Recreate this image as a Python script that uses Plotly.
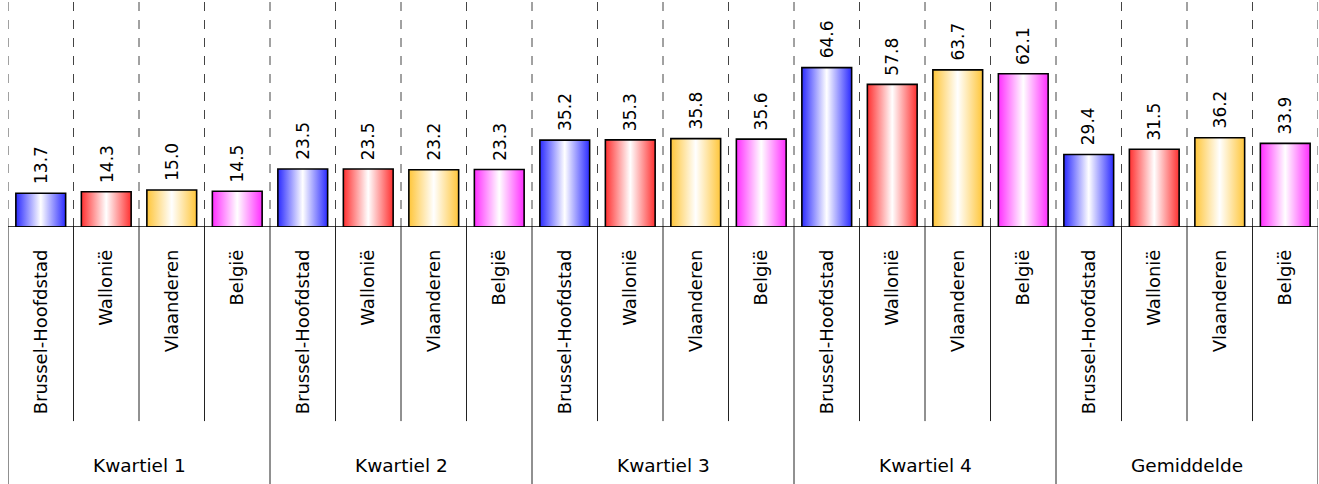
import plotly.graph_objects as go

groups = ["Kwartiel 1", "Kwartiel 2", "Kwartiel 3", "Kwartiel 4", "Gemiddelde"]
regions = ["Brussel-Hoofdstad", "Wallonië", "Vlaanderen", "België"]
values_brussel = [13.7, 23.5, 35.2, 64.6, 29.4]
values_wallonie = [14.3, 23.5, 35.3, 57.8, 31.5]
values_vlaanderen = [15.0, 23.2, 35.8, 63.7, 36.2]
values_belgie = [14.5, 23.3, 35.6, 62.1, 33.9]
colors = ["#2b2bff", "#ff3030", "#ffc63a", "#ff2eff"]

series = [values_brussel, values_wallonie, values_vlaanderen, values_belgie]
FONT = "DejaVu Sans"
W = 0.76
YMAX = 92

fig = go.Figure()
annotations = []
shapes = []
tickvals, ticktext = [], []
for g, grp in enumerate(groups):
    for r, reg in enumerate(regions):
        i = g * 4 + r
        v = series[r][g]
        c = colors[r]
        fig.add_trace(go.Scatter(
            x=[i - W / 2, i - W / 2, i + W / 2, i + W / 2, i - W / 2],
            y=[0, v, v, 0, 0],
            mode="lines", fill="toself",
            line=dict(color="black", width=1.6),
            fillgradient=dict(type="horizontal",
                              colorscale=[[0, c], [0.5, "#ffffff"], [1, c]]),
            hoverinfo="skip", showlegend=False,
        ))
        annotations.append(dict(
            x=i, y=v, xref="x", yref="y", text=f"{v:.1f}", textangle=-90,
            showarrow=False, yanchor="bottom", xanchor="center", yshift=7,
            font=dict(family=FONT, size=17, color="black"),
        ))
        tickvals.append(i)
        ticktext.append(reg)
    annotations.append(dict(
        x=g * 4 + 1.5, y=-1.05, xref="x", yref="paper", text=grp,
        showarrow=False, yanchor="middle", xanchor="center",
        font=dict(family=FONT, size=18.5, color="black"),
    ))

n = len(groups) * 4
for k in range(n + 1):
    xb = k - 0.5
    shapes.append(dict(type="line", xref="x", yref="paper", x0=xb, x1=xb,
                       y0=0, y1=1, line=dict(color="#444444", width=1, dash="dash")))
    bottom = -1.135 if k % 4 == 0 else -0.855
    shapes.append(dict(type="line", xref="x", yref="paper", x0=xb, x1=xb,
                       y0=0, y1=bottom, line=dict(color="#222222", width=1)))
shapes.append(dict(type="line", xref="x", yref="y", x0=-0.5, x1=n - 0.5,
                   y0=0, y1=0, line=dict(color="black", width=1.3)))

fig.update_layout(
    width=1319, height=484,
    margin=dict(l=8, r=1, t=0, b=257),
    plot_bgcolor="white", paper_bgcolor="white",
    xaxis=dict(range=[-0.5, n - 0.5], tickvals=tickvals, ticktext=ticktext,
               tickangle=-90, showgrid=False, zeroline=False, showline=False,
               ticks="", ticklabelstandoff=18,
               tickfont=dict(family=FONT, size=18, color="black")),
    yaxis=dict(range=[0, YMAX], visible=False, showgrid=False, zeroline=False),
    annotations=annotations, shapes=shapes,
)
fig.write_html("out.html")
